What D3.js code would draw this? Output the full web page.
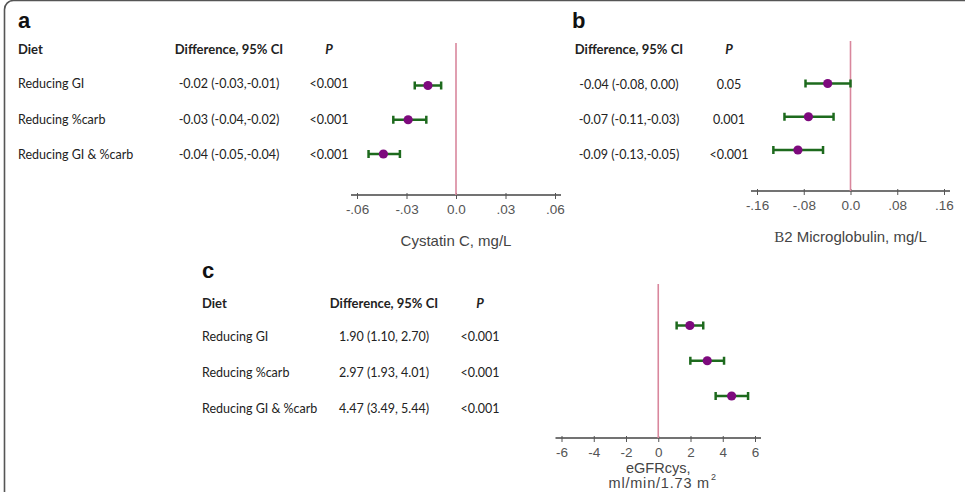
<!DOCTYPE html>
<html>
<head>
<meta charset="utf-8">
<script src="https://cdn.jsdelivr.net/npm/d3@7"></script>
<style>
  body { margin: 0; background: #fff; }
  svg { display: block; }
</style>
</head>
<body>
<div id="chart"></div>
<script>
var width = 965;
var height = 492;

// rows shared by the three panels
var diets = ["Reducing GI", "Reducing %carb", "Reducing GI & %carb"];

// panel a - Cystatin C
var diffA = ["-0.02 (-0.03,-0.01)", "-0.03 (-0.04,-0.02)", "-0.04 (-0.05,-0.04)"];
var pA = ["<0.001", "<0.001", "<0.001"];
var estA = [-0.017, -0.029, -0.044];
var loA = [-0.025, -0.038, -0.053];
var hiA = [-0.009, -0.018, -0.034];
var ticksA = [-0.06, -0.03, 0, 0.03, 0.06];
var tickLabelsA = ["-.06", "-.03", "0.0", ".03", ".06"];

// panel b - B2 microglobulin
var diffB = ["-0.04 (-0.08, 0.00)", "-0.07 (-0.11,-0.03)", "-0.09 (-0.13,-0.05)"];
var pB = ["0.05", "0.001", "<0.001"];
var estB = [-0.039, -0.072, -0.090];
var loB = [-0.077, -0.113, -0.132];
var hiB = [0.0, -0.029, -0.047];
var ticksB = [-0.16, -0.08, 0, 0.08, 0.16];
var tickLabelsB = ["-.16", "-.08", "0.0", ".08", ".16"];

// panel c - eGFRcys
var diffC = ["1.90 (1.10, 2.70)", "2.97 (1.93, 4.01)", "4.47 (3.49, 5.44)"];
var pC = ["<0.001", "<0.001", "<0.001"];
var estC = [1.96, 3.04, 4.55];
var loC = [1.14, 1.99, 3.56];
var hiC = [2.79, 4.08, 5.57];
var ticksC = [-6, -4, -2, 0, 2, 4, 6];
var tickLabelsC = ["-6", "-4", "-2", "0", "2", "4", "6"];

var tableFont = "Lato, 'Open Sans', sans-serif";
var axisFont = "Arial, 'Liberation Sans', sans-serif";
var green = "#1d6a1d";
var purple = "#7d0a7d";
var pink = "#d9879d";

var svg = d3.select("#chart")
            .append("svg")
            .attr("width", width)
            .attr("height", height);

// rounded frame round the figure
svg.append("rect")
    .attr("x", 4.5).attr("y", 0.5)
    .attr("width", 975).attr("height", 520)
    .attr("rx", 9)
    .style("fill", "none")
    .style("stroke", "#555")
    .style("stroke-width", 1.6);

function drawPanel(cfg){
    var g = svg.append("g");

    // panel letter
    g.append("text")
        .attr("x", cfg.letterX).attr("y", cfg.letterY)
        .style("font-family", axisFont)
        .style("font-weight", "bold")
        .style("font-size", "22px")
        .style("fill", "#111")
        .text(cfg.letter);

    // table headers
    var head = g.append("g")
        .style("font-family", tableFont)
        .style("font-weight", "bold")
        .style("font-size", "13px")
        .style("fill", "#222");
    if(cfg.dietX != null){
        head.append("text").attr("x", cfg.dietX).attr("y", cfg.headY).attr("dy", "0.35em").text("Diet");
    }
    head.append("text").attr("x", cfg.diffX).attr("y", cfg.headY).attr("dy", "0.35em")
        .attr("text-anchor", "middle").text("Difference, 95% CI");
    head.append("text").attr("x", cfg.pX).attr("y", cfg.headY).attr("dy", "0.35em")
        .attr("text-anchor", "middle").style("font-style", "italic").text("P");

    // table rows
    var rowY = d3.scalePoint().domain(diets).range(cfg.textRows);
    var body = g.append("g")
        .style("font-family", tableFont)
        .style("font-size", "12.5px")
        .style("fill", "#222");
    diets.forEach(function(d, i){
        if(cfg.dietX != null){
            body.append("text").attr("x", cfg.dietX).attr("y", rowY(d)).attr("dy", "0.35em").text(d);
        }
        body.append("text").attr("x", cfg.diffX).attr("y", rowY(d)).attr("dy", "0.35em")
            .attr("text-anchor", "middle").text(cfg.diff[i]);
        body.append("text").attr("x", cfg.pX).attr("y", rowY(d)).attr("dy", "0.35em")
            .attr("text-anchor", "middle").text(cfg.p[i]);
    });

    // plot
    var x = d3.scaleLinear().domain(cfg.domain).range(cfg.xRange);
    var y = d3.scalePoint().domain(diets).range(cfg.pointRows);

    // axis line slightly wider than tick range
    g.append("line")
        .attr("x1", cfg.xRange[0] - 6).attr("x2", cfg.xRange[1] + 6)
        .attr("y1", cfg.axisY).attr("y2", cfg.axisY)
        .style("stroke", "#444").style("stroke-width", 1.4);

    var axis = d3.axisBottom(x)
        .tickValues(cfg.ticks)
        .tickFormat(function(d, i){ return cfg.tickLabels[i]; })
        .tickSizeInner(4)
        .tickSizeOuter(0)
        .tickPadding(5);

    var ax = g.append("g")
        .attr("transform", "translate(0," + cfg.axisY + ")")
        .call(axis);
    ax.select(".domain").remove();
    ax.selectAll(".tick line").style("stroke", "#555").attr("y1", -2);
    ax.selectAll(".tick text")
        .style("font-family", axisFont)
        .style("font-size", "13.5px")
        .style("fill", "#555");

    // zero reference line
    g.append("line")
        .attr("x1", x(0)).attr("x2", x(0))
        .attr("y1", cfg.zeroTop).attr("y2", cfg.axisY)
        .style("stroke", pink).style("stroke-width", 1.6);

    // confidence intervals
    var ci = g.selectAll("g.ci")
        .data(diets)
        .enter()
        .append("g")
        .attr("class", "ci");
    ci.append("line")
        .attr("x1", function(d, i){ return x(cfg.lo[i]); })
        .attr("x2", function(d, i){ return x(cfg.hi[i]); })
        .attr("y1", function(d){ return y(d); })
        .attr("y2", function(d){ return y(d); })
        .style("stroke", green).style("stroke-width", 2.5);
    ci.append("line")
        .attr("x1", function(d, i){ return x(cfg.lo[i]); })
        .attr("x2", function(d, i){ return x(cfg.lo[i]); })
        .attr("y1", function(d){ return y(d) - 4; })
        .attr("y2", function(d){ return y(d) + 4; })
        .style("stroke", green).style("stroke-width", 2.5);
    ci.append("line")
        .attr("x1", function(d, i){ return x(cfg.hi[i]); })
        .attr("x2", function(d, i){ return x(cfg.hi[i]); })
        .attr("y1", function(d){ return y(d) - 4; })
        .attr("y2", function(d){ return y(d) + 4; })
        .style("stroke", green).style("stroke-width", 2.5);
    ci.append("circle")
        .attr("cx", function(d, i){ return x(cfg.est[i]); })
        .attr("cy", function(d){ return y(d); })
        .attr("r", 4.6)
        .style("fill", purple);

    // axis title
    cfg.title(g, x(0));
}

function oneLineTitle(label, ty){
    return function(g, cx){
        g.append("text")
            .attr("x", cx).attr("y", ty)
            .attr("text-anchor", "middle")
            .style("font-family", axisFont)
            .style("font-size", "15px")
            .style("fill", "#444")
            .text(label);
    };
}

drawPanel({
    letter: "a", letterX: 18, letterY: 28,
    dietX: 18, diffX: 229, pX: 329, headY: 49,
    textRows: [84, 155],
    diff: diffA, p: pA,
    est: estA, lo: loA, hi: hiA,
    domain: [-0.06, 0.06], xRange: [357, 555],
    ticks: ticksA, tickLabels: tickLabelsA,
    pointRows: [85.5, 154],
    axisY: 195, zeroTop: 43,
    title: oneLineTitle("Cystatin C, mg/L", 246)
});

drawPanel({
    letter: "b", letterX: 572, letterY: 28,
    dietX: null, diffX: 629, pX: 729, headY: 49,
    textRows: [85, 155],
    diff: diffB, p: pB,
    est: estB, lo: loB, hi: hiB,
    domain: [-0.16, 0.16], xRange: [757, 944],
    ticks: ticksB, tickLabels: tickLabelsB,
    pointRows: [83.5, 150],
    axisY: 191, zeroTop: 41,
    title: function(g, cx){
        var t = g.append("text")
            .attr("x", cx).attr("y", 242)
            .attr("text-anchor", "middle")
            .style("font-family", axisFont)
            .style("font-size", "15px")
            .style("fill", "#444");
        t.append("tspan").style("font-family", "'Liberation Serif', serif").text("B");
        t.append("tspan").text("2 Microglobulin, mg/L");
    }
});

drawPanel({
    letter: "c", letterX: 202, letterY: 278,
    dietX: 202, diffX: 384, pX: 480, headY: 303,
    textRows: [336.5, 408.5],
    diff: diffC, p: pC,
    est: estC, lo: loC, hi: hiC,
    domain: [-6, 6], xRange: [561.5, 755],
    ticks: ticksC, tickLabels: tickLabelsC,
    pointRows: [325.5, 396],
    axisY: 438, zeroTop: 284,
    title: function(g, cx){
        var tg = g.append("g")
            .style("font-family", axisFont)
            .style("fill", "#444");
        tg.append("text")
            .attr("x", cx).attr("y", 473)
            .attr("text-anchor", "middle")
            .style("font-size", "14.5px")
            .text("eGFRcys,");
        var t2 = tg.append("text")
            .attr("x", cx + 4).attr("y", 488)
            .attr("text-anchor", "middle")
            .style("font-size", "14.5px");
        t2.append("tspan").style("letter-spacing", "0.8px").text("ml/min/1.73 m");
        t2.append("tspan").attr("dx", 1).attr("dy", -8).style("font-size", "9px").text("2");
    }
});
</script>
</body>
</html>
